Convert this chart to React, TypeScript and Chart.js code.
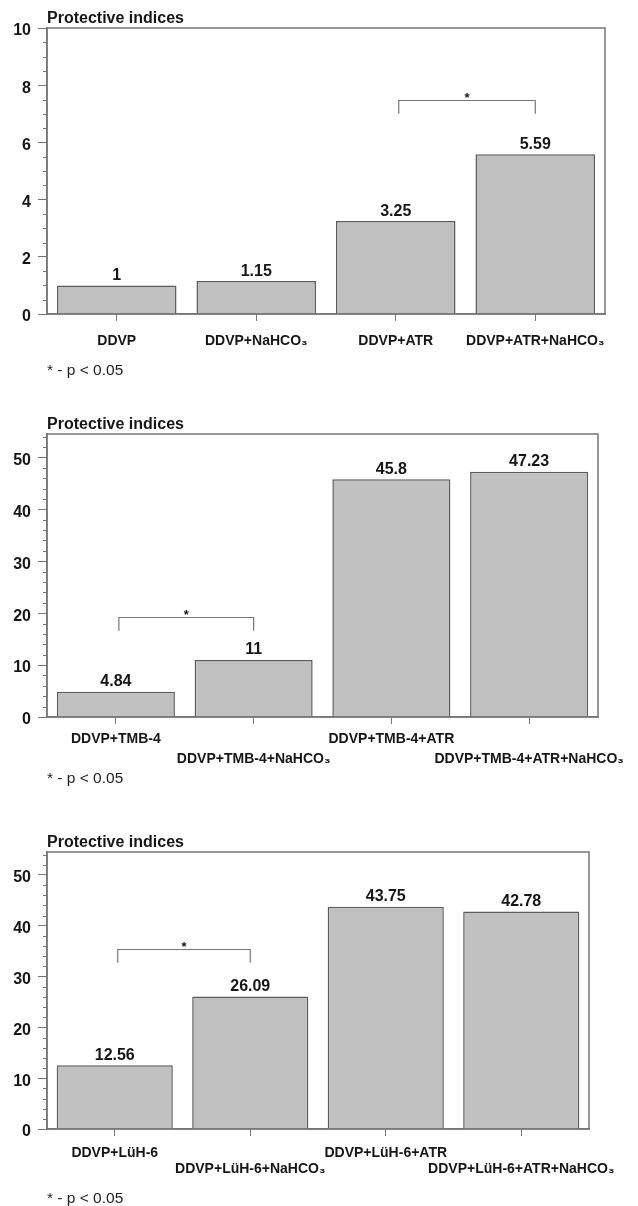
import React, { useEffect, useRef } from "react";
import { Chart, registerables } from "chart.js";

Chart.register(...registerables);

// ---------- data ----------
const TITLE = "Protective indices";
const FOOTNOTE = "* - p < 0.05";

const categories1 = ["DDVP", "DDVP+NaHCO₃", "DDVP+ATR", "DDVP+ATR+NaHCO₃"];
const values1 = [1, 1.15, 3.25, 5.59];
const yTicks1 = [0, 2, 4, 6, 8, 10];
const bracket1 = { from: 2, to: 3, top: 7.5, bottom: 7.0 };

const categories2 = ["DDVP+TMB-4", "DDVP+TMB-4+NaHCO₃", "DDVP+TMB-4+ATR", "DDVP+TMB-4+ATR+NaHCO₃"];
const values2 = [4.84, 11, 45.8, 47.23];
const yTicks2 = [0, 10, 20, 30, 40, 50];
const bracket2 = { from: 0, to: 1, top: 19.3, bottom: 16.6 };

const categories3 = ["DDVP+LüH-6", "DDVP+LüH-6+NaHCO₃", "DDVP+LüH-6+ATR", "DDVP+LüH-6+ATR+NaHCO₃"];
const values3 = [12.56, 26.09, 43.75, 42.78];
const yTicks3 = [0, 10, 20, 30, 40, 50];
const bracket3 = { from: 0, to: 1, top: 35.4, bottom: 32.7 };

// ---------- style ----------
const FONT = '"Liberation Sans", Arial, Helvetica, sans-serif';
const TEXT = "#161616";
const AXIS = "#767676";
const BAR_FILL = "#c0c0c0";
const BAR_EDGE = "#5c5c5c";

type Panel = {
  top: number;
  height: number;
  areaTop: number;
  areaBottom: number;
  areaRight: number;
  yMax: number;
  minorStep: number;
  yTicks: number[];
  categories: string[];
  values: number[];
  bracket: { from: number; to: number; top: number; bottom: number };
  stagger: boolean;
  xPad: number;
  xLine: string;
  footY: number;
};

const panels: Panel[] = [
  {
    top: 0, height: 390, areaTop: 28, areaBottom: 314, areaRight: 605,
    yMax: 10, minorStep: 0.5, yTicks: yTicks1,
    categories: categories1, values: values1, bracket: bracket1,
    stagger: false, xPad: 11.4, xLine: "16.8px", footY: 375,
  },
  {
    top: 390, height: 410, areaTop: 44, areaBottom: 327, areaRight: 598,
    yMax: 54.5, minorStep: 2, yTicks: yTicks2,
    categories: categories2, values: values2, bracket: bracket2,
    stagger: true, xPad: 5.75, xLine: "19.5px", footY: 392.5,
  },
  {
    top: 800, height: 406, areaTop: 52, areaBottom: 329, areaRight: 589,
    yMax: 54.5, minorStep: 2, yTicks: yTicks3,
    categories: categories3, values: values3, bracket: bracket3,
    stagger: true, xPad: 8.75, xLine: "16.5px", footY: 402.5,
  },
];

function makeDecor(p: Panel) {
  return {
    id: "decor",
    afterDraw(chart: any) {
      const { ctx, chartArea: ca } = chart;
      const x = chart.scales.x;
      const y = chart.scales.y;
      ctx.save();

      // plot frame
      ctx.strokeStyle = AXIS;
      ctx.lineWidth = 1.5;
      ctx.strokeRect(ca.left, ca.top, ca.right - ca.left, ca.bottom - ca.top);

      // minor ticks
      ctx.lineWidth = 1;
      ctx.beginPath();
      for (let k = 0; k * p.minorStep <= p.yMax + 1e-9; k++) {
        const v = k * p.minorStep;
        if (p.yTicks.some((t) => Math.abs(t - v) < 1e-9)) continue;
        const py = Math.round(y.getPixelForValue(v)) + 0.5;
        ctx.moveTo(ca.left - 4, py);
        ctx.lineTo(ca.left, py);
      }
      ctx.stroke();

      // title
      ctx.fillStyle = TEXT;
      ctx.font = `bold 16px ${FONT}`;
      ctx.textAlign = "left";
      ctx.textBaseline = "alphabetic";
      ctx.fillText(TITLE, ca.left, ca.top - 5);

      // value labels
      ctx.textAlign = "center";
      ctx.font = `bold 16px ${FONT}`;
      const meta = chart.getDatasetMeta(0);
      meta.data.forEach((bar: any, i: number) => {
        ctx.fillText(String(p.values[i]), bar.x, bar.y - 5.5);
      });

      // significance bracket
      const b = p.bracket;
      const xa = x.getPixelForValue(b.from) + 3;
      const xb = x.getPixelForValue(b.to);
      const yt = Math.round(y.getPixelForValue(b.top)) + 0.5;
      const yb = y.getPixelForValue(b.bottom);
      ctx.strokeStyle = AXIS;
      ctx.lineWidth = 1.2;
      ctx.beginPath();
      ctx.moveTo(xa, yb);
      ctx.lineTo(xa, yt);
      ctx.lineTo(xb, yt);
      ctx.lineTo(xb, yb);
      ctx.stroke();
      ctx.font = `bold 13px ${FONT}`;
      ctx.fillText("*", (xa + xb) / 2, yt + 1.5);

      // footnote
      ctx.textAlign = "left";
      ctx.font = `15.5px ${FONT}`;
      ctx.fillStyle = "#222";
      ctx.fillText(FOOTNOTE, 47, p.footY);

      ctx.restore();
    },
  };
}

function BarPanel({ p }: { p: Panel }) {
  const ref = useRef<HTMLCanvasElement>(null);
  useEffect(() => {
    const cats = p.categories;
    const chart = new Chart(ref.current as HTMLCanvasElement, {
      type: "bar",
      data: {
        labels: cats,
        datasets: [
          {
            data: p.values,
            backgroundColor: BAR_FILL,
            borderColor: BAR_EDGE,
            borderWidth: 1.5,
            borderSkipped: "bottom",
            barPercentage: 0.857,
            categoryPercentage: 1,
          },
        ],
      },
      options: {
        responsive: false,
        animation: false,
        devicePixelRatio: 1,
        layout: { padding: { top: p.areaTop, left: 0, right: 638 - p.areaRight, bottom: 0 } },
        plugins: {
          legend: { display: false },
          tooltip: { enabled: false },
          title: { display: false },
        },
        scales: {
          x: {
            type: "category",
            offset: true,
            grid: {
              display: true,
              drawOnChartArea: false,
              drawTicks: true,
              tickLength: 7,
              offset: false,
              tickColor: AXIS,
              tickWidth: 1,
            },
            border: { display: true, color: AXIS, width: 1.5 },
            ticks: {
              autoSkip: false,
              maxRotation: 0,
              minRotation: 0,
              padding: p.xPad,
              color: TEXT,
              font: { family: FONT, size: 14, weight: "bold", lineHeight: p.xLine },
              callback: (_v: any, i: number) => (p.stagger && i % 2 === 1 ? ["", cats[i]] : cats[i]),
            },
            afterFit: (s: any) => {
              s.height = p.height - p.areaBottom;
            },
          },
          y: {
            min: 0,
            max: p.yMax,
            afterBuildTicks: (s: any) => {
              s.ticks = p.yTicks.map((v) => ({ value: v }));
            },
            grid: {
              display: true,
              drawOnChartArea: false,
              drawTicks: true,
              tickLength: 9,
              tickColor: AXIS,
              tickWidth: 1,
            },
            border: { display: true, color: AXIS, width: 1.5 },
            ticks: {
              autoSkip: false,
              padding: 7,
              color: TEXT,
              font: { family: FONT, size: 16, weight: "bold", lineHeight: "6px" },
              callback: (v: any) => ["", String(v)],
            },
            afterFit: (s: any) => {
              s.width = 47;
            },
          },
        },
      } as any,
      plugins: [makeDecor(p)],
    } as any);
    return () => chart.destroy();
  }, [p]);
  return (
    <div style={{ position: "absolute", left: 0, top: p.top, width: 638, height: p.height }}>
      <canvas ref={ref} width={638} height={p.height} style={{ display: "block", width: 638, height: p.height }} />
    </div>
  );
}

export default function App() {
  return (
    <div style={{ position: "absolute", left: 0, top: 0, width: 638, height: 1206, background: "#fff", overflow: "hidden" }}>
      {panels.map((p, i) => (
        <BarPanel key={i} p={p} />
      ))}
    </div>
  );
}
